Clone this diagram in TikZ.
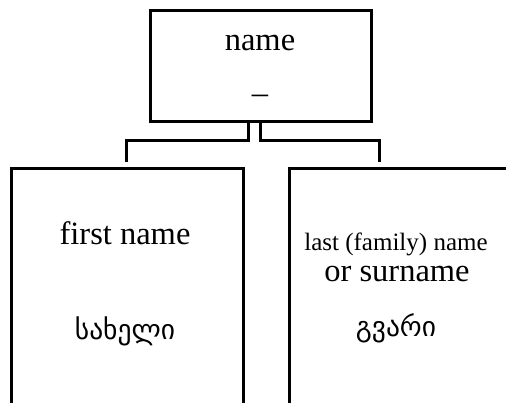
\documentclass[tikz,border=0pt]{standalone}
\usepackage{fontspec}
\setmainfont{Liberation Serif}
\newfontfamily\geofont{DejaVu Sans}
\usetikzlibrary{positioning,calc}

\tikzset{
  box/.style={draw=black, line width=3pt, rectangle, inner sep=0pt},
  link/.style={draw=black, line width=3pt},
  lbl/.style={anchor=base, inner sep=0pt, font=\fontsize{32.5}{36}\selectfont},
  small/.style={anchor=base, inner sep=0pt, font=\fontsize{25}{28}\selectfont},
  geo/.style={anchor=base, inner sep=0pt, font=\geofont\fontsize{27.5}{30}\selectfont},
}

\begin{document}
\begin{tikzpicture}[
  x=1pt, y=-1pt,
  line cap=butt,
]
\useasboundingbox (0,0) rectangle (506,403);
\clip (0,0) rectangle (506,403);

% ---------- top box ----------
\node[box, minimum width=221pt, minimum height=111pt] (nameBox) at (260.5,66) {};
\node[lbl] (nameTxt) at (260,51) {name};
\node[lbl] (nameDash) at (260,104) {–};

% ---------- lower boxes (run past the frame) ----------
\node[box, minimum width=232pt, minimum height=300pt] (firstBox) at (127,318.5) {};
\node[box, minimum width=232pt, minimum height=300pt] (lastBox) at (405,318.5) {};

\node[lbl] (firstTxt) at (125,245) {first name};
\node[geo] (firstGeo) at (125,340) {სახელი};

\node[small] (lastTxt) at (396,251) {last (family) name};
\node[lbl] (lastOr) at (397,282) {or surname};
\node[geo] (lastGeo) at (396,337) {გვარი};

% ---------- connectors ----------
\coordinate (leftDrop) at ([xshift=-1pt, yshift=5pt]firstBox.north);
\coordinate (rightDrop) at ([xshift=92pt, yshift=5pt]lastBox.north west);
\draw[link] ([xshift=-12.5pt]nameBox.south) |- ($(leftDrop)+(0,-21)$) -- (leftDrop);
\draw[link] ([xshift=-0.5pt]nameBox.south) |- ($(rightDrop)+(0,-21)$) -- (rightDrop);
\end{tikzpicture}
\end{document}
